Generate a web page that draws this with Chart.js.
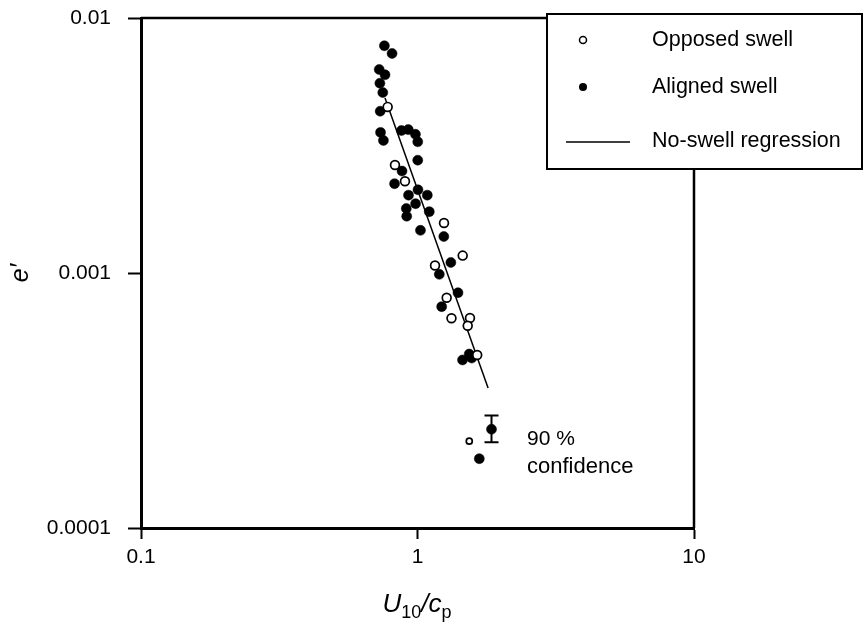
<!DOCTYPE html>
<html>
<head>
<meta charset="utf-8">
<script src="https://cdn.jsdelivr.net/npm/chart.js@4.4.1/dist/chart.umd.min.js"></script>
<style>
  html, body { margin: 0; padding: 0; background: #fff; }
  #wrap { width: 864px; height: 638px; }
</style>
</head>
<body>
<div id="wrap"><canvas id="swellChart" width="864" height="638"></canvas></div>
<script>
// Axis ticks (decades only)
const xTicks = [0.1, 1, 10];
const xTickLabels = ["0.1", "1", "10"];
const yTicks = [0.0001, 0.001, 0.01];
const yTickLabels = ["0.0001", "0.001", "0.01"];

// Aligned swell runs (filled circles)
const alignedX = [0.759, 0.809, 0.727, 0.763, 0.731, 0.749, 0.733, 0.735, 0.753,
  0.875, 0.926, 0.983, 1.002, 1.002, 0.879, 0.826, 0.928, 1.004, 1.085, 0.984,
  0.911, 0.914, 1.103, 1.025, 1.245, 1.320, 1.199, 1.401, 1.223, 1.455, 1.538,
  1.571, 1.673, 1.852];
const alignedY = [0.00778, 0.00726, 0.00628, 0.00599, 0.00555, 0.00510, 0.00431,
  0.00356, 0.00331, 0.00362, 0.00365, 0.00350, 0.00327, 0.00277, 0.00251, 0.00224,
  0.00202, 0.00212, 0.00202, 0.00187, 0.00179, 0.00167, 0.00174, 0.00147, 0.00139,
  0.00110, 0.000988, 0.000837, 0.000738, 0.000456, 0.000481, 0.000464, 0.000187,
  0.000244];

// Opposed swell runs (open circles)
const opposedX = [0.780, 0.829, 0.901, 1.247, 1.457, 1.157, 1.275, 1.327, 1.548,
  1.519, 1.644, 1.539];
const opposedY = [0.00448, 0.00265, 0.00229, 0.00157, 0.00117, 0.00107, 0.000800,
  0.000665, 0.000666, 0.000621, 0.000477, 0.000219];

// No-swell regression line end points
const regressionX = [0.763, 1.80];
const regressionY = [0.00486, 0.000354];

// 90 % confidence bar
const confX = 1.852;
const confLow = 0.000217;
const confHigh = 0.000276;

const FONT = "'Liberation Sans', Arial, Helvetica, sans-serif";
Chart.defaults.font.family = FONT;
Chart.defaults.color = "#000";

const toPoints = (xs, ys) => xs.map((x, i) => ({ x: x, y: ys[i] }));

// frame, legend, confidence bar and x title
const extras = {
  id: "extras",
  afterDraw(chart) {
    const c = chart.ctx;
    const a = chart.chartArea;
    const xs = chart.scales.x;
    const ys = chart.scales.y;

    c.save();
    c.strokeStyle = "#000";
    c.lineWidth = 2.5;
    c.beginPath();
    c.moveTo(a.left, a.top);
    c.lineTo(a.right, a.top);
    c.lineTo(a.right, a.bottom);
    c.stroke();

    // confidence bar
    const bx = xs.getPixelForValue(confX);
    const y1 = ys.getPixelForValue(confHigh);
    const y2 = ys.getPixelForValue(confLow);
    c.lineWidth = 2;
    c.beginPath();
    c.moveTo(bx, y1); c.lineTo(bx, y2);
    c.moveTo(bx - 7, y1); c.lineTo(bx + 7, y1);
    c.moveTo(bx - 7, y2); c.lineTo(bx + 7, y2);
    c.stroke();

    c.fillStyle = "#000";
    c.font = "21px " + FONT;
    c.textAlign = "left";
    c.textBaseline = "middle";
    c.fillText("90 %", 527, 439);
    c.font = "22px " + FONT;
    c.fillText("confidence", 527, 467);

    // x axis title with subscripts
    const parts = [
      { t: "U", f: "italic 26px " + FONT, dy: 0 },
      { t: "10", f: "18px " + FONT, dy: 6 },
      { t: "/c", f: "italic 26px " + FONT, dy: 0 },
      { t: "p", f: "18px " + FONT, dy: 6 }
    ];
    let w = 0;
    parts.forEach(p => { c.font = p.f; w += c.measureText(p.t).width; });
    let tx = 417 - w / 2;
    c.textBaseline = "alphabetic";
    parts.forEach(p => {
      c.font = p.f;
      c.fillText(p.t, tx, 612 + p.dy);
      tx += c.measureText(p.t).width;
    });

    // legend box
    const lx = 547, ly = 14, lw = 315, lh = 155;
    c.fillStyle = "#fff";
    c.fillRect(lx, ly, lw, lh);
    c.lineWidth = 2;
    c.strokeRect(lx, ly, lw, lh);

    c.fillStyle = "#000";
    c.font = "21.5px " + FONT;
    c.textBaseline = "middle";
    c.lineWidth = 1.5;
    c.beginPath();
    c.arc(583, 40, 3.5, 0, Math.PI * 2);
    c.stroke();
    c.fillText("Opposed swell", 652, 40);

    c.beginPath();
    c.arc(583, 87, 4, 0, Math.PI * 2);
    c.fill();
    c.fillText("Aligned swell", 652, 87);

    c.beginPath();
    c.moveTo(566, 142); c.lineTo(630, 142);
    c.stroke();
    c.fillText("No-swell regression", 652, 141);
    c.restore();
  }
};

new Chart(document.getElementById("swellChart"), {
  type: "scatter",
  data: {
    datasets: [
      {
        label: "Opposed swell",
        data: toPoints(opposedX, opposedY),
        pointStyle: "circle",
        pointRadius: (ctx) => (ctx.dataIndex === opposedX.length - 1 ? 3 : 4.4),
        pointBorderWidth: 1.7,
        borderColor: "#000",
        backgroundColor: "#fff",
        order: 1
      },
      {
        label: "Aligned swell",
        data: toPoints(alignedX, alignedY),
        pointStyle: "circle",
        pointRadius: 5,
        pointBorderWidth: 0.5,
        borderColor: "#000",
        backgroundColor: "#000",
        order: 2
      },
      {
        label: "No-swell regression",
        type: "line",
        data: toPoints(regressionX, regressionY),
        showLine: true,
        pointRadius: 0,
        borderColor: "#000",
        borderWidth: 1.5,
        order: 3
      }
    ]
  },
  options: {
    responsive: false,
    animation: false,
    devicePixelRatio: 1,
    layout: { padding: { top: 18, right: 170, left: 0, bottom: 0 } },
    plugins: {
      legend: { display: false },
      tooltip: { enabled: false }
    },
    scales: {
      x: {
        type: "logarithmic",
        min: 0.1,
        max: 10,
        afterBuildTicks: (scale) => { scale.ticks = xTicks.map(v => ({ value: v })); },
        afterFit: (scale) => {
          scale.height = 110;
          scale.paddingLeft = 0;
          scale.paddingRight = 0;
        },
        ticks: {
          callback: (value, index) => xTickLabels[index],
          font: { size: 21 },
          padding: 6,
          maxRotation: 0,
          autoSkip: false
        },
        grid: {
          drawOnChartArea: false,
          drawTicks: true,
          tickLength: 11,
          tickColor: "#000",
          tickWidth: 2
        },
        border: { display: true, color: "#000", width: 3 },
        title: { display: false }
      },
      y: {
        type: "logarithmic",
        min: 0.0001,
        max: 0.01,
        afterBuildTicks: (scale) => { scale.ticks = yTicks.map(v => ({ value: v })); },
        afterFit: (scale) => {
          scale.width = 141;
          scale.paddingTop = 0;
          scale.paddingBottom = 0;
        },
        ticks: {
          callback: (value, index) => yTickLabels[index],
          font: { size: 21 },
          padding: 17,
          autoSkip: false
        },
        grid: {
          drawOnChartArea: false,
          drawTicks: true,
          tickLength: 13,
          tickColor: "#000",
          tickWidth: 2
        },
        border: { display: true, color: "#000", width: 3 },
        title: {
          display: true,
          text: "e\u2032",
          font: { size: 25, style: "italic" },
          padding: { top: 6, bottom: 0 }
        }
      }
    }
  },
  plugins: [extras]
});
</script>
</body>
</html>
